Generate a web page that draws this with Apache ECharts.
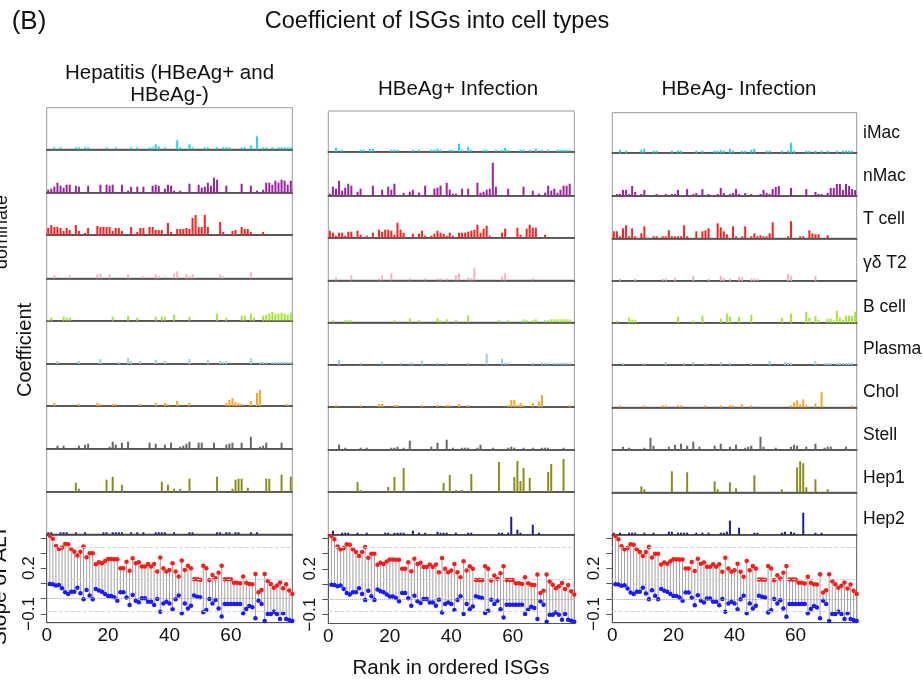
<!DOCTYPE html>
<html><head><meta charset="utf-8">
<script src="https://cdn.jsdelivr.net/npm/echarts@6/dist/echarts.min.js"></script>
<style>html,body{margin:0;padding:0;background:#fff}#c{width:923px;height:684px}</style>
</head><body><div id="c"></div>
<script>
// ---------- DATA ----------
const cellTypes = ['iMac','nMac','T cell','γδ T2','B cell','Plasma','Chol','Stell','Hep1','Hep2'];
const panelTitles = [['Hepatitis (HBeAg+ and','HBeAg-)'],['HBeAg+ Infection'],['HBeAg- Infection']];
const xTickLabels = [0,20,40,60];
const yTickValues = [-0.1,0,0.1,0.2,0.3,0.4];
const yTickLabels = [-0.1,0.2];
const nGenes = 80;

// bar heights, sparse [rank index, coefficient]
const hep_iMac = [[2,2],[4,2],[9,2],[10,2],[12,2],[13,2],[19,2],[22,2],[27,2],[29,2],[33,2],[34,2],[35,5],[36,3],[38,2],[42,9],[43,2],[46,5],[47,2],[51,2],[52,2],[55,2],[57,2],[58,2],[59,2],[63,2],[64,2],[66,4],[68,13],[70,2],[71,2],[73,2],[75,2],[76,2],[77,2],[78,2],[79,2]];
const hep_nMac = [[0,3],[1,4],[2,6],[3,10],[4,7],[5,5],[6,8],[7,8],[9,7],[10,6],[13,7],[17,8],[19,8],[20,7],[21,8],[24,8],[26,2],[27,6],[29,6],[31,6],[34,7],[35,8],[36,7],[38,4],[39,8],[40,7],[41,2],[43,2],[46,9],[49,8],[50,5],[51,6],[52,10],[53,7],[54,15],[55,13],[58,7],[63,9],[66,7],[68,2],[70,3],[71,10],[72,10],[73,8],[74,12],[75,10],[76,13],[77,12],[78,8],[79,12]];
const hep_Tcell = [[0,7],[1,10],[2,8],[3,8],[4,7],[5,4],[6,7],[7,5],[9,10],[10,4],[12,2],[13,7],[16,9],[17,8],[18,8],[19,8],[20,8],[21,4],[22,7],[23,7],[24,4],[27,8],[29,3],[30,7],[31,7],[33,8],[34,8],[35,5],[36,5],[37,5],[39,12],[40,3],[42,6],[43,6],[44,6],[45,7],[46,6],[47,17],[48,20],[49,8],[50,8],[51,20],[52,8],[56,13],[57,3],[60,4],[61,5],[63,8],[64,6],[65,6],[66,3],[70,3]];
const hep_gdT2 = [[2,3],[7,3],[16,4],[17,5],[20,4],[26,4],[31,2],[35,4],[36,2],[38,2],[41,5],[42,7],[45,4],[46,2],[47,4],[56,4],[57,2],[66,6]];
const hep_Bcell = [[0,1],[1,3],[5,4],[6,3],[7,3],[21,4],[26,5],[29,3],[35,4],[37,4],[38,4],[41,6],[46,4],[55,7],[58,3],[63,5],[64,5],[66,7],[67,3],[70,5],[71,6],[72,7],[73,9],[74,7],[75,7],[76,8],[77,7],[78,6],[79,8]];
const hep_Plasma = [[3,3],[10,3],[17,5],[23,2],[26,6],[27,3],[30,3],[35,4],[38,3],[46,5],[52,4],[56,3],[57,2],[58,3],[66,6],[69,2],[70,2],[71,2],[73,2],[74,2],[75,2],[76,2],[77,2],[78,2],[79,2]];
const hep_Chol = [[2,3],[10,2],[16,3],[17,2],[21,2],[22,2],[30,2],[35,3],[38,3],[39,2],[42,5],[46,3],[58,3],[59,6],[60,8],[61,4],[62,3],[63,2],[66,5],[68,13],[69,16],[78,2]];
const hep_Stell = [[3,3],[5,3],[10,3],[12,4],[13,5],[20,2],[21,7],[22,4],[24,6],[26,7],[33,6],[35,5],[38,4],[40,6],[43,2],[44,3],[45,5],[46,7],[49,6],[50,6],[54,6],[58,4],[59,5],[60,6],[63,6],[66,12],[69,2],[70,3],[71,6],[76,6]];
const hep_Hep1 = [[9,9],[10,3],[19,12],[21,15],[24,7],[37,10],[39,7],[41,3],[43,3],[46,13],[55,15],[60,3],[61,12],[62,13],[63,13],[65,4],[71,13],[72,13],[76,17],[79,15]];
const hep_Hep2 = [[0,2],[1,2],[4,2],[5,2],[6,2],[9,2],[12,2],[18,2],[19,2],[21,2],[22,2],[23,2],[24,2],[27,2],[29,2],[31,2],[35,2],[36,2],[37,2],[38,2],[41,2],[46,2],[47,2],[55,2],[56,2],[58,2],[59,2],[61,2],[62,2],[66,2],[68,2]];

const pos_iMac = [[2,4],[4,2],[10,2],[11,2],[13,3],[14,3],[20,2],[21,2],[22,2],[27,2],[29,2],[33,2],[34,2],[35,3],[36,2],[39,2],[40,2],[42,8],[43,2],[45,5],[46,2],[50,2],[51,2],[54,2],[56,2],[57,4],[58,2],[62,2],[63,2],[65,2],[67,3],[69,2],[71,2],[74,2],[75,2],[76,2],[77,2],[78,2]];
const pos_nMac = [[0,2],[1,9],[2,7],[3,15],[4,5],[5,8],[6,12],[7,10],[9,4],[10,7],[14,10],[17,6],[19,9],[20,6],[21,12],[24,3],[26,4],[27,6],[29,3],[31,10],[34,7],[35,8],[36,10],[38,13],[39,6],[40,2],[41,2],[43,7],[45,7],[48,13],[49,3],[50,4],[51,6],[52,7],[53,33],[54,9],[58,7],[63,9],[66,5],[68,2],[70,3],[71,10],[72,5],[73,7],[74,3],[75,6],[76,10],[77,10],[78,12]];
const pos_Tcell = [[0,7],[1,5],[2,2],[3,5],[4,5],[5,2],[6,6],[7,6],[9,7],[10,3],[12,2],[14,5],[16,8],[17,6],[18,8],[19,8],[20,7],[21,3],[22,15],[23,8],[24,5],[27,4],[29,4],[30,7],[31,2],[33,2],[34,4],[35,7],[36,5],[37,4],[38,2],[39,5],[40,2],[42,5],[43,5],[44,5],[45,6],[46,7],[47,8],[48,13],[49,5],[50,9],[51,12],[52,2],[56,5],[57,9],[61,10],[62,3],[64,9],[65,13],[66,10],[67,10],[70,3]];
const pos_gdT2 = [[2,3],[7,5],[16,2],[17,5],[20,7],[26,2],[31,2],[35,2],[36,2],[38,2],[41,5],[42,7],[45,3],[46,2],[47,12],[56,4],[57,7],[66,2]];
const pos_Bcell = [[1,2],[5,2],[6,2],[7,2],[21,2],[26,4],[29,2],[35,4],[36,2],[38,3],[41,2],[45,7],[55,2],[58,2],[63,3],[64,2],[66,2],[67,3],[70,2],[71,2],[72,3],[73,3],[74,3],[75,3],[76,3],[77,3],[78,3]];
const pos_Plasma = [[3,5],[10,2],[17,3],[23,2],[26,2],[27,2],[30,4],[35,2],[38,2],[45,2],[51,11],[56,6],[57,2],[58,2],[66,2],[69,2],[70,2],[71,2],[73,2],[74,2],[75,2],[76,2],[77,2],[78,2]];
const pos_Chol = [[2,2],[10,2],[16,3],[17,3],[21,2],[22,2],[30,2],[35,2],[38,2],[39,2],[42,3],[45,2],[58,2],[59,7],[60,7],[61,2],[62,4],[63,2],[66,4],[68,5],[69,12],[78,2]];
const pos_Stell = [[3,5],[5,2],[10,2],[12,2],[20,2],[21,2],[22,3],[24,2],[26,9],[33,3],[35,7],[38,10],[40,2],[43,2],[44,2],[45,2],[48,2],[49,5],[53,2],[58,2],[59,3],[60,2],[63,2],[66,2],[69,2],[70,2],[71,2],[76,2]];
const pos_Hep1 = [[9,10],[10,2],[19,5],[21,15],[24,24],[37,9],[39,17],[41,2],[43,2],[46,18],[55,30],[60,15],[61,31],[62,11],[63,24],[65,14],[71,20],[72,28],[76,33]];
const pos_Hep2 = [[1,4],[4,2],[5,2],[6,2],[9,2],[12,2],[18,2],[19,2],[21,2],[22,2],[23,2],[24,2],[27,4],[29,2],[31,2],[35,3],[36,2],[37,2],[38,2],[41,2],[45,2],[46,2],[55,2],[56,2],[58,2],[59,18],[61,5],[62,2],[66,10],[68,2]];

const neg_iMac = [[2,3],[4,2],[9,3],[10,4],[13,2],[14,2],[19,2],[21,2],[22,2],[27,2],[29,2],[33,2],[34,2],[35,3],[36,2],[38,4],[39,2],[42,2],[43,2],[45,3],[46,4],[50,2],[51,2],[55,2],[57,2],[58,10],[59,2],[63,2],[64,2],[66,2],[68,2],[70,2],[73,2],[75,2],[76,2],[77,2],[78,2]];
const neg_nMac = [[1,2],[2,2],[3,6],[4,6],[5,2],[6,10],[7,4],[9,2],[10,6],[14,2],[17,2],[19,2],[20,2],[21,6],[24,7],[26,2],[27,3],[29,7],[31,2],[34,2],[35,8],[36,3],[38,2],[39,3],[40,7],[41,2],[43,3],[45,2],[48,2],[49,6],[50,3],[51,2],[52,7],[53,9],[54,10],[58,8],[63,7],[66,4],[67,2],[68,2],[70,3],[71,8],[72,8],[73,12],[74,12],[75,6],[76,12],[77,10],[78,7],[79,6]];
const neg_Tcell = [[0,7],[1,7],[2,2],[3,10],[4,13],[5,2],[6,10],[7,2],[9,5],[10,12],[13,2],[14,2],[16,2],[17,2],[18,8],[19,2],[20,2],[21,2],[22,2],[23,13],[24,2],[27,7],[29,7],[30,8],[31,10],[34,15],[35,11],[36,7],[37,4],[39,12],[40,2],[42,2],[43,12],[45,2],[46,5],[47,2],[48,3],[49,2],[50,2],[51,5],[52,16],[57,2],[58,17],[61,2],[62,2],[64,8],[65,5],[66,4],[67,4],[70,3]];
const neg_gdT2 = [[2,2],[7,2],[16,2],[17,2],[20,3],[26,5],[31,2],[35,5],[36,3],[38,2],[41,4],[42,4],[45,2],[46,2],[47,2],[57,7],[58,5],[66,5]];
const neg_Bcell = [[1,2],[5,5],[6,3],[7,3],[21,6],[26,2],[29,7],[35,4],[37,9],[38,6],[41,6],[45,8],[55,5],[58,9],[63,11],[64,5],[66,7],[67,3],[70,4],[71,4],[72,2],[73,12],[74,5],[75,3],[76,7],[77,7],[78,7],[79,11]];
const neg_Plasma = [[3,2],[10,2],[17,3],[23,2],[26,3],[30,2],[35,3],[38,2],[45,2],[51,4],[56,3],[57,2],[58,2],[66,4],[69,2],[70,2],[71,2],[73,2],[74,2],[75,2],[76,2],[77,2],[78,2]];
const neg_Chol = [[2,2],[10,2],[16,2],[17,2],[21,2],[22,2],[30,2],[35,2],[38,2],[39,2],[42,3],[45,2],[58,2],[59,5],[60,7],[61,3],[62,8],[63,2],[66,4],[68,15],[78,2]];
const neg_Stell = [[3,3],[5,2],[10,2],[12,12],[13,4],[18,3],[20,5],[22,6],[24,4],[26,8],[28,3],[33,4],[35,6],[38,3],[40,5],[43,2],[44,3],[45,4],[48,13],[49,3],[53,2],[58,3],[59,5],[60,4],[63,3],[66,6],[69,2],[70,3],[71,3],[76,3]];
const neg_Hep1 = [[9,6],[10,3],[19,21],[24,20],[33,11],[34,3],[38,10],[40,4],[46,17],[55,3],[60,25],[61,31],[62,29],[63,5],[66,13],[70,3]];
const neg_Hep2 = [[0,2],[2,2],[5,2],[6,2],[7,2],[10,2],[13,2],[18,3],[19,3],[21,2],[22,2],[23,2],[24,2],[27,2],[29,2],[31,2],[35,2],[36,2],[37,3],[38,14],[41,7],[46,2],[47,2],[55,2],[56,3],[58,3],[59,2],[62,22],[66,2],[68,2]];

// slope of ALT (rank 1..80), two groups
const slopeRed = [0.414,0.393,0.346,0.327,0.336,0.36,0.357,0.327,0.309,0.283,
 0.309,0.342,0.272,0.298,0.298,0.226,0.239,0.232,0.248,0.261,
 0.261,0.259,0.259,0.2,0.2,0.243,0.184,0.265,0.232,0.239,
 0.211,0.211,0.228,0.211,0.228,0.178,0.27,0.2,0.178,0.189,
 0.232,0.178,0.145,0.25,0.189,0.217,0.2,0.127,0.127,0.125,
 0.217,0.2,0.123,0.156,0.134,0.171,0.217,0.127,0.127,0.127,
 0.105,0.105,0.101,0.145,0.105,0.096,0.094,0.162,0.042,0.057,
 0.162,0.116,0.096,0.072,0.086,0.107,0.068,0.094,0.053,0.031];
const slopeBlue = [0.096,0.094,0.086,0.09,0.068,0.042,0.031,0.046,0.046,0.072,
 0.035,-0.004,0.057,0.02,-0.004,0.064,0.053,0.046,0.031,0.018,
 0.018,0.009,-0.013,0.042,0.042,0.007,-0.042,0.024,-0.013,-0.024,
 0.002,0.002,-0.02,-0.02,-0.042,-0.002,-0.086,-0.031,-0.02,-0.031,
 -0.07,-0.004,0.02,-0.096,-0.031,-0.064,-0.046,0.02,0.013,0.009,
 -0.09,-0.075,-0.002,-0.031,-0.009,-0.064,-0.118,-0.035,-0.035,-0.035,
 -0.035,-0.035,-0.035,-0.096,-0.068,-0.048,-0.057,-0.129,-0.013,-0.035,
 -0.147,-0.1,-0.1,-0.086,-0.1,-0.134,-0.096,-0.134,-0.14,-0.147];
const refLines = [0.342, 0.13, -0.082];

// ---------- STYLE / LAYOUT ----------
const FONT = '"Liberation Sans", Arial, sans-serif';
const colors = ['#1fd9e6','#a0219f','#ff1f1f','#f7b3c0','#a3e635','#9ccde2','#ffa51f','#686868','#8c8c1c','#1c1c8f'];
const layout = [
  {left: 46.7, width: 245.6, rows: [107.7,149.3,192.7,235,278.3,320.7,364,406,448.7,491.7,534.3], bottom: 622.7},
  {left: 328.3, width: 246, rows: [111,151.7,195.7,237.7,280.3,322.3,364.7,407,449.7,492,534.7], bottom: 623.5},
  {left: 612.3, width: 244.4, rows: [112.7,152.7,196,238.3,280.7,322.7,365,407.3,449.7,492.3,534.7], bottom: 622.7}
];
const panelData = [
  [hep_iMac,hep_nMac,hep_Tcell,hep_gdT2,hep_Bcell,hep_Plasma,hep_Chol,hep_Stell,hep_Hep1,hep_Hep2],
  [pos_iMac,pos_nMac,pos_Tcell,pos_gdT2,pos_Bcell,pos_Plasma,pos_Chol,pos_Stell,pos_Hep1,pos_Hep2],
  [neg_iMac,neg_nMac,neg_Tcell,neg_gdT2,neg_Bcell,neg_Plasma,neg_Chol,neg_Stell,neg_Hep1,neg_Hep2]
];
const cats = Array.from({length:nGenes},(_,i)=>String(i+1));
function dense(pairs){ const a = new Array(nGenes).fill(null); pairs.forEach(p=>{a[p[0]]=p[1];}); return a; }

const grid=[], xAxis=[], yAxis=[], series=[];
layout.forEach((L,c)=>{
  for(let r=0;r<10;r++){
    const idx=grid.length, top=L.rows[r], h=L.rows[r+1]-L.rows[r];
    grid.push({left:L.left, top:top, width:L.width, height:h, show:true, borderColor:'#9a9a9a', borderWidth:1});
    xAxis.push({gridIndex:idx, type:'category', data:cats, boundaryGap:true,
      axisLine:{show:true, lineStyle:{color:'#3c3c3c', width:1.6}}, axisTick:{show:false}, axisLabel:{show:false}});
    yAxis.push({gridIndex:idx, type:'value', min:0, max:h, show:false});
    series.push({type:'bar', xAxisIndex:idx, yAxisIndex:idx, data:dense(panelData[c][r]), barWidth:2,
      itemStyle:{color:colors[r]}, silent:true});
  }
  const idx=grid.length, top=L.rows[10];
  grid.push({left:L.left, top:top, width:L.width, height:L.bottom-top, show:true, borderColor:'#555', borderWidth:1});
  xAxis.push({gridIndex:idx, type:'value', min:0, max:80,
    axisLine:{show:true, onZero:false, lineStyle:{color:'#555'}}, axisTick:{show:false},
    axisLabel:{customValues:xTickLabels, fontSize:19, color:'#111', margin:4, fontFamily:FONT},
    splitLine:{show:false}});
  yAxis.push({gridIndex:idx, type:'value', min:-0.158, max:0.423,
    axisLine:{show:true, lineStyle:{color:'#555'}},
    axisTick:{show:true, customValues:yTickValues, length:6, lineStyle:{color:'#555'}},
    axisLabel:{customValues:yTickLabels, rotate:90, fontSize:17, color:'#111', margin:9, fontFamily:FONT,
      formatter:v=> (v<0?'\u2212':'')+Math.abs(v).toFixed(1)},
    splitLine:{show:false}});
  series.push({type:'custom', xAxisIndex:idx, yAxisIndex:idx, silent:true, z:1,
    data: slopeRed.map((v,i)=>[i+1, v, slopeBlue[i]]),
    encode:{x:0, y:[1,2]},
    renderItem:(params, api)=>{
      const p1=api.coord([api.value(0), api.value(1)]), p2=api.coord([api.value(0), api.value(2)]);
      return {type:'line', shape:{x1:p1[0],y1:p1[1],x2:p2[0],y2:p2[1]}, style:{stroke:'#a2a2a2', lineWidth:1}};
    }});
  series.push({type:'scatter', xAxisIndex:idx, yAxisIndex:idx, silent:true, z:3, symbolSize:4.5,
    itemStyle:{color:'#ff1a1a', opacity:1}, data: slopeRed.map((v,i)=>[i+1,v]),
    markLine:{silent:true, symbol:['none','none'], label:{show:false}, animation:false,
      data: refLines.map(v=>({yAxis:v, lineStyle:{color:'#d6d6d6', type:'dashed', width:1}}))
            .concat([{yAxis:0, lineStyle:{color:'#a0a0a0', type:'dotted', width:1}}])}});
  series.push({type:'scatter', xAxisIndex:idx, yAxisIndex:idx, silent:true, z:3, symbolSize:4.5,
    itemStyle:{color:'#1a1aff', opacity:1}, data: slopeBlue.map((v,i)=>[i+1,v])});
});

function txt(text, x, y, size, opts){
  return Object.assign({type:'text', x:x, y:y, silent:true,
    style:{text:text, font:size+'px '+FONT, fill:'#111', align:'center', verticalAlign:'middle'}}, opts||{});
}
const graphic = [
  txt('(B)', 29, 22, 26),
  txt('Coefficient of ISGs into cell types', 437, 22, 23.5),
  txt(panelTitles[0][0], 169.5, 73, 20.5),
  txt(panelTitles[0][1], 169.5, 95, 20.5),
  txt(panelTitles[1][0], 458, 89, 20.5),
  txt(panelTitles[2][0], 739, 89, 20.5),
  txt('Rank in ordered ISGs', 451, 668, 20.5),
  txt('Coefficient', 25, 350, 20, {rotation:Math.PI/2}),
  txt('dominate', 2, 232, 18, {rotation:Math.PI/2}),
  txt('Slope of ALT', 0, 585, 21, {rotation:Math.PI/2})
];
const labelY = [133,176,219,263,307,349,392,435,478,519];
cellTypes.forEach((t,i)=>{
  const g = txt(t, 863, labelY[i], 17.5); g.style.align='left'; graphic.push(g);
});

const chart = echarts.init(document.getElementById('c'), null, {renderer:'canvas'});
chart.setOption({animation:false, backgroundColor:'#fff', grid, xAxis, yAxis, series, graphic});
</script></body></html>
